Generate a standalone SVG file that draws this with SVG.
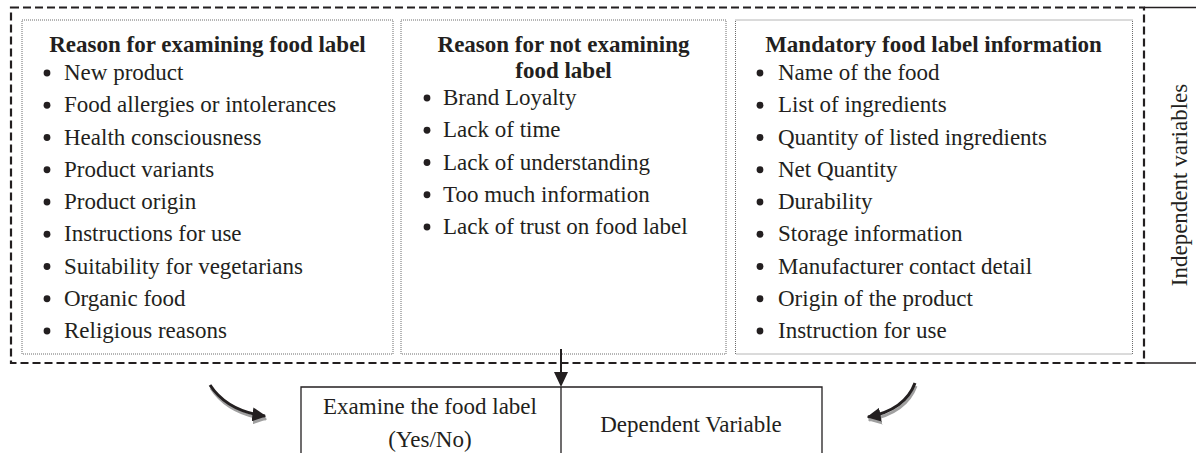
<svg xmlns="http://www.w3.org/2000/svg" width="1196" height="453" viewBox="0 0 1196 453">
<style>
text{font-family:"Liberation Serif","Times New Roman",serif;font-size:23px;fill:#231f20}
.t{font-weight:bold;text-anchor:middle}
.c{text-anchor:middle}
.dot{fill:none;stroke:#6d6d6d;stroke-width:1;stroke-dasharray:1 1}
.dash{fill:none;stroke:#231f20;stroke-width:2.2;stroke-dasharray:8 4}
.sol{fill:none;stroke:#231f20;stroke-width:1.3}
.b{fill:#231f20}
</style>
<defs>
<circle id="bl" r="3.4" class="b"/>
<marker id="ah" viewBox="0 0 10 10" refX="9" refY="5" markerWidth="14" markerHeight="14" markerUnits="userSpaceOnUse" orient="auto"><path d="M0,0 L10,5 L0,10 Z" fill="#231f20"/></marker>
<marker id="ahs" viewBox="0 0 10 10" refX="9" refY="5" markerWidth="14" markerHeight="14" markerUnits="userSpaceOnUse" orient="auto"><path d="M0,0 L10,5 L0,10 Z" fill="#a0a0a0"/></marker>
</defs>
<g id="independent">
<rect x="11" y="7.5" width="1133" height="355.5" class="dash"/>
<path d="M1144,7.5 H1196 M1144,363 H1196" class="sol"/>
<text transform="translate(1187,185) rotate(-90)" class="c">Independent variables</text>
</g>
<g id="box-examining">
<rect x="22" y="20" width="371" height="334" class="dot"/>
<text x="207.5" y="52" class="t">Reason for examining food label</text>
<use href="#bl" x="47" y="73"/><text x="64" y="80">New product</text>
<use href="#bl" x="47" y="105.25"/><text x="64" y="112.25">Food allergies or intolerances</text>
<use href="#bl" x="47" y="137.5"/><text x="64" y="144.5">Health consciousness</text>
<use href="#bl" x="47" y="169.75"/><text x="64" y="176.75">Product variants</text>
<use href="#bl" x="47" y="202"/><text x="64" y="209">Product origin</text>
<use href="#bl" x="47" y="234.25"/><text x="64" y="241.25">Instructions for use</text>
<use href="#bl" x="47" y="266.5"/><text x="64" y="273.5">Suitability for vegetarians</text>
<use href="#bl" x="47" y="298.75"/><text x="64" y="305.75">Organic food</text>
<use href="#bl" x="47" y="331"/><text x="64" y="338">Religious reasons</text>
</g>
<g id="box-not-examining">
<rect x="401" y="20" width="325" height="334" class="dot"/>
<text x="563.5" y="52" class="t">Reason for not examining</text>
<text x="563.5" y="78" class="t">food label</text>
<use href="#bl" x="427" y="98"/><text x="443" y="105">Brand Loyalty</text>
<use href="#bl" x="427" y="130.25"/><text x="443" y="137.25">Lack of time</text>
<use href="#bl" x="427" y="162.5"/><text x="443" y="169.5">Lack of understanding</text>
<use href="#bl" x="427" y="194.75"/><text x="443" y="201.75">Too much information</text>
<use href="#bl" x="427" y="227"/><text x="443" y="234">Lack of trust on food label</text>
</g>
<g id="box-mandatory">
<rect x="735.5" y="20" width="397" height="334" class="dot"/>
<text x="933.5" y="52" class="t">Mandatory food label information</text>
<use href="#bl" x="760" y="73"/><text x="778" y="80">Name of the food</text>
<use href="#bl" x="760" y="105.25"/><text x="778" y="112.25">List of ingredients</text>
<use href="#bl" x="760" y="137.5"/><text x="778" y="144.5">Quantity of listed ingredients</text>
<use href="#bl" x="760" y="169.75"/><text x="778" y="176.75">Net Quantity</text>
<use href="#bl" x="760" y="202"/><text x="778" y="209">Durability</text>
<use href="#bl" x="760" y="234.25"/><text x="778" y="241.25">Storage information</text>
<use href="#bl" x="760" y="266.5"/><text x="778" y="273.5">Manufacturer contact detail</text>
<use href="#bl" x="760" y="298.75"/><text x="778" y="305.75">Origin of the product</text>
<use href="#bl" x="760" y="331"/><text x="778" y="338">Instruction for use</text>
</g>
<g id="dependent">
<path d="M301,460 V387 H822 V460 M561,387 V460" class="sol"/>
<text x="430" y="414" class="c">Examine the food label</text>
<text x="430" y="447" class="c">(Yes/No)</text>
<text x="691" y="432" class="c">Dependent Variable</text>
</g>
<g id="connectors">
<path d="M211,388 Q228,414 266,419" fill="none" stroke="#a0a0a0" stroke-width="3" marker-end="url(#ahs)"/>
<path d="M210,385 Q227,411 265,416" fill="none" stroke="#231f20" stroke-width="3" marker-end="url(#ah)"/>
<path d="M916,386 Q906,413 869,420" fill="none" stroke="#a0a0a0" stroke-width="3" marker-end="url(#ahs)"/>
<path d="M915,383 Q905,410 868,417" fill="none" stroke="#231f20" stroke-width="3" marker-end="url(#ah)"/>
<path d="M561,349 V374" stroke="#231f20" stroke-width="2"/>
<path d="M554,372 L568,372 L561,387 Z" fill="#231f20"/>
</g>
</svg>
